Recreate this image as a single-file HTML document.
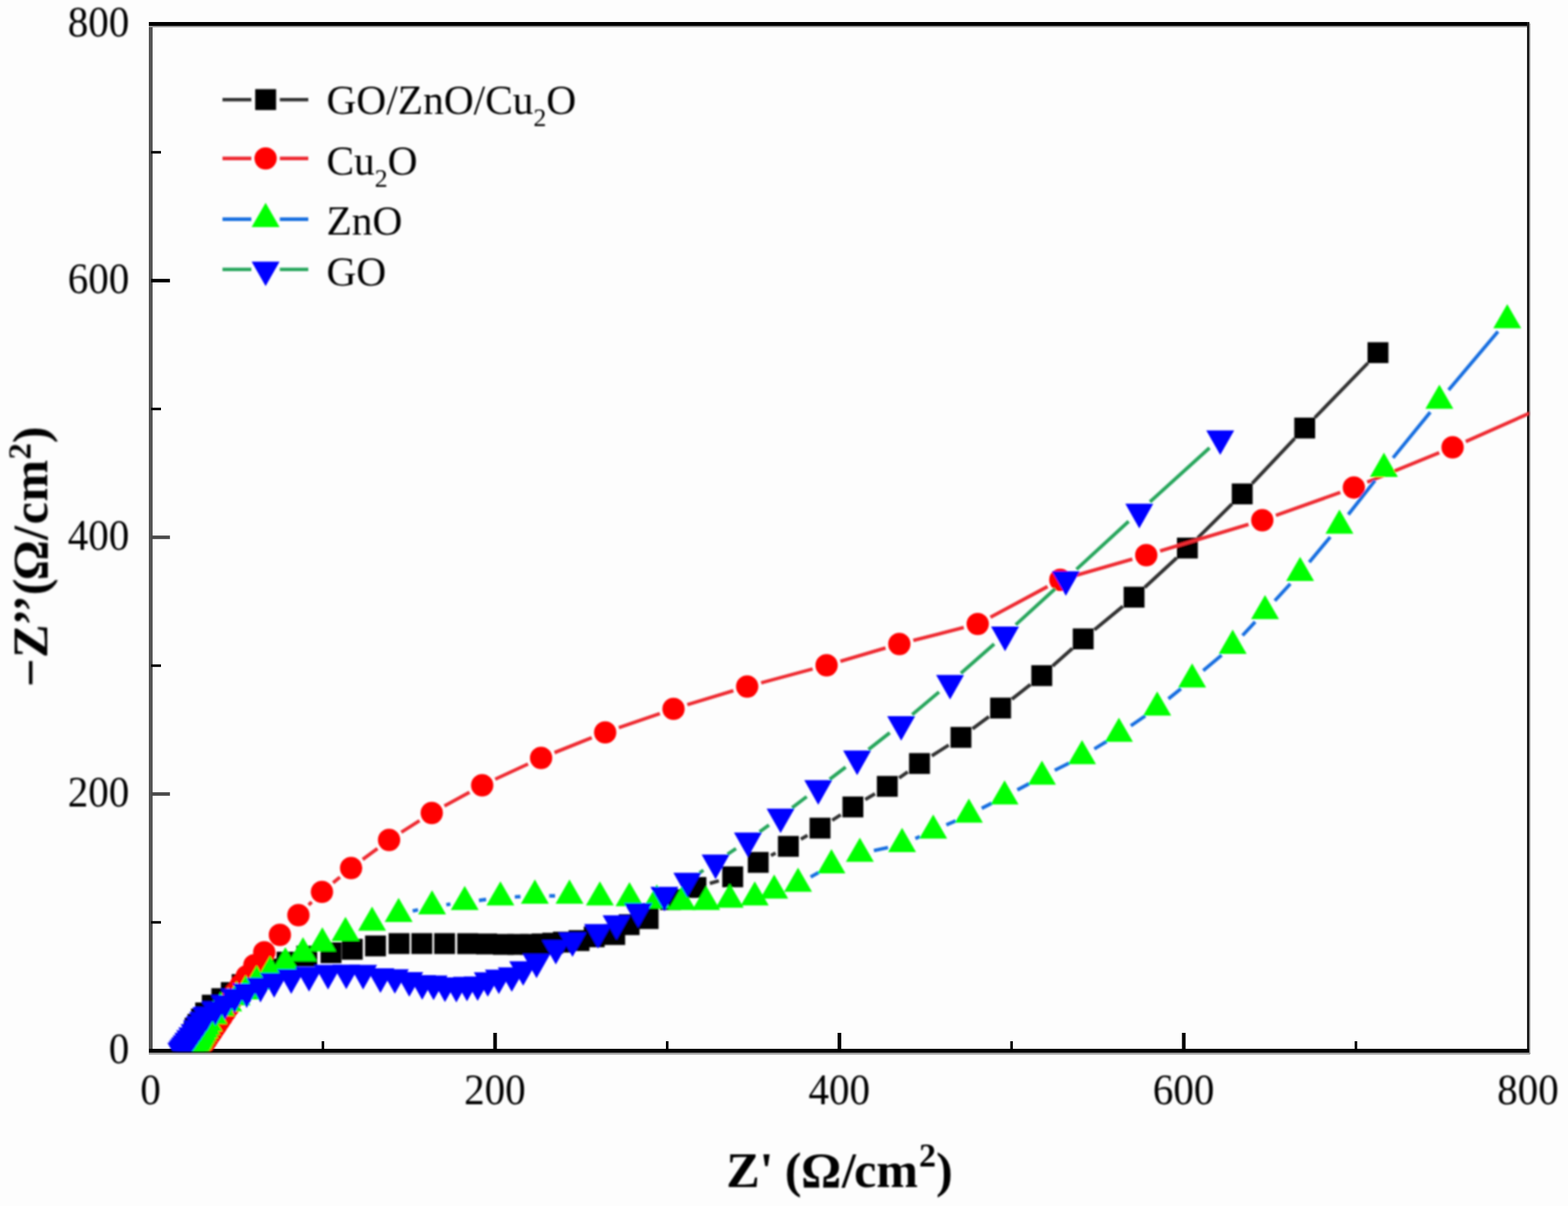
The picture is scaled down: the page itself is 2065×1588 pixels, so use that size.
<!DOCTYPE html>
<html lang="en"><head><meta charset="utf-8"><title>Nyquist plot</title>
<style>
html,body{margin:0;padding:0;background:#fdfdfd;}
body{width:2065px;height:1588px;overflow:hidden;}
svg{display:block;}
text{font-family:"Liberation Serif","DejaVu Serif",serif;fill:#000;}
.tk{font-size:56px;}
.lg{font-size:54.5px;}
.ax{font-size:66px;font-weight:bold;font-kerning:none;}
</style></head><body>
<svg width="2065" height="1588" viewBox="0 0 2065 1588">
<defs><clipPath id="plot"><rect x="196" y="29" width="1818" height="1355.5"/></clipPath><filter id="soft" x="-2%" y="-2%" width="104%" height="104%"><feGaussianBlur stdDeviation="1.0"/></filter><filter id="soft0" x="-2%" y="-2%" width="104%" height="104%"><feGaussianBlur stdDeviation="0.5"/></filter></defs>
<rect width="2065" height="1588" fill="#fdfdfd"/>
<g id="frame" filter="url(#soft0)">
<rect x="196" y="29" width="5" height="1359" fill="#555555"/>
<rect x="196" y="29" width="1818" height="5" fill="#000000"/>
<rect x="196" y="34" width="1818" height="2" fill="#9a9a9a"/>
<rect x="2011" y="29" width="3.2" height="1359" fill="#1e1e1e"/>
<rect x="2014" y="31" width="1.6" height="1357" fill="#a8a8a8"/>
<rect x="196" y="1381" width="1818" height="5.2" fill="#000000"/>
<rect x="196" y="1386" width="1819" height="2.6" fill="#9a9a9a"/>
<rect x="199" y="1212.8" width="13" height="3.4" fill="#000"/>
<rect x="423.6" y="1371" width="3.4" height="12" fill="#000"/>
<rect x="199" y="1043.2" width="24.8" height="4.6" fill="#4a4a4a"/>
<rect x="649.6" y="1360" width="4.8" height="23" fill="#000"/>
<rect x="199" y="874.8" width="13" height="3.4" fill="#000"/>
<rect x="877" y="1371" width="3.4" height="12" fill="#000"/>
<rect x="199" y="705.2" width="24.8" height="4.6" fill="#4a4a4a"/>
<rect x="1103.1" y="1360" width="4.8" height="23" fill="#000"/>
<rect x="199" y="536.8" width="13" height="3.4" fill="#000"/>
<rect x="1330.5" y="1371" width="3.4" height="12" fill="#000"/>
<rect x="199" y="367.2" width="24.8" height="4.6" fill="#000"/>
<rect x="1556.6" y="1360" width="4.8" height="23" fill="#000"/>
<rect x="199" y="198.8" width="13" height="3.4" fill="#000"/>
<rect x="1784" y="1371" width="3.4" height="12" fill="#000"/>
</g>
<g filter="url(#soft)">
<g id="data" clip-path="url(#plot)">
<path d="M934.8 1163.2L946.7 1159.8M1015.3 1126.6L1021.4 1123.3M1054.7 1104.9L1063.5 1099.9M1096 1080.1L1107.2 1072.9M1139.5 1052.8L1152.3 1045.2M1184.1 1024.4L1195.5 1016.4M1227.1 995.3L1249.4 981.1M1280.8 959.7L1302.4 943.7M1332.6 920.6L1357.1 901.4M1386.2 877L1412.4 853.8M1441.3 829.2L1478.8 798.4M1507.5 773.5L1549.8 734.5M1577.3 708.3L1622.5 663.7M1649.1 636.6L1705.1 577.4M1731.5 550L1801.5 478" stroke="#333333" stroke-width="4.6" fill="none"/>
<rect x="235.1" y="1371" width="27.5" height="27.5" fill="#000000"/>
<rect x="235.8" y="1368.2" width="27.5" height="27.5" fill="#000000"/>
<rect x="236.6" y="1365.3" width="27.5" height="27.5" fill="#000000"/>
<rect x="237.3" y="1362.2" width="27.5" height="27.5" fill="#000000"/>
<rect x="238.3" y="1358.7" width="27.5" height="27.5" fill="#000000"/>
<rect x="239.3" y="1354.7" width="27.5" height="27.5" fill="#000000"/>
<rect x="240.6" y="1350.2" width="27.5" height="27.5" fill="#000000"/>
<rect x="241.8" y="1345.5" width="27.5" height="27.5" fill="#000000"/>
<rect x="243.2" y="1340" width="27.5" height="27.5" fill="#000000"/>
<rect x="246.9" y="1335" width="27.5" height="27.5" fill="#000000"/>
<rect x="251.6" y="1328" width="27.5" height="27.5" fill="#000000"/>
<rect x="257.1" y="1320" width="27.5" height="27.5" fill="#000000"/>
<rect x="265.8" y="1309.8" width="27.5" height="27.5" fill="#000000"/>
<rect x="278.4" y="1301.2" width="27.5" height="27.5" fill="#000000"/>
<rect x="290.9" y="1293.2" width="27.5" height="27.5" fill="#000000"/>
<rect x="305.1" y="1282.7" width="27.5" height="27.5" fill="#000000"/>
<rect x="322.2" y="1272.2" width="27.5" height="27.5" fill="#000000"/>
<rect x="341.8" y="1262.2" width="27.5" height="27.5" fill="#000000"/>
<rect x="364.2" y="1253.2" width="27.5" height="27.5" fill="#000000"/>
<rect x="390.2" y="1245.2" width="27.5" height="27.5" fill="#000000"/>
<rect x="422.2" y="1240.8" width="27.5" height="27.5" fill="#000000"/>
<rect x="450.2" y="1236.2" width="27.5" height="27.5" fill="#000000"/>
<rect x="480.8" y="1231.8" width="27.5" height="27.5" fill="#000000"/>
<rect x="511.8" y="1228.7" width="27.5" height="27.5" fill="#000000"/>
<rect x="541.8" y="1228.7" width="27.5" height="27.5" fill="#000000"/>
<rect x="571.8" y="1228.7" width="27.5" height="27.5" fill="#000000"/>
<rect x="602.2" y="1228.8" width="27.5" height="27.5" fill="#000000"/>
<rect x="627.2" y="1229.2" width="27.5" height="27.5" fill="#000000"/>
<rect x="649.2" y="1229.8" width="27.5" height="27.5" fill="#000000"/>
<rect x="668.2" y="1229.8" width="27.5" height="27.5" fill="#000000"/>
<rect x="685.2" y="1229.8" width="27.5" height="27.5" fill="#000000"/>
<rect x="700.2" y="1229.2" width="27.5" height="27.5" fill="#000000"/>
<rect x="714.2" y="1228.2" width="27.5" height="27.5" fill="#000000"/>
<rect x="728.2" y="1226.8" width="27.5" height="27.5" fill="#000000"/>
<rect x="748.8" y="1224.8" width="27.5" height="27.5" fill="#000000"/>
<rect x="768.8" y="1219.8" width="27.5" height="27.5" fill="#000000"/>
<rect x="795.8" y="1216.8" width="27.5" height="27.5" fill="#000000"/>
<rect x="814.8" y="1203.8" width="27.5" height="27.5" fill="#000000"/>
<rect x="839.8" y="1195.8" width="27.5" height="27.5" fill="#000000"/>
<rect x="869.2" y="1170.8" width="27.5" height="27.5" fill="#000000"/>
<rect x="902.8" y="1154.8" width="27.5" height="27.5" fill="#000000"/>
<rect x="951.2" y="1140.8" width="27.5" height="27.5" fill="#000000"/>
<rect x="984.8" y="1121.8" width="27.5" height="27.5" fill="#000000"/>
<rect x="1024.5" y="1100.7" width="27.5" height="27.5" fill="#000000"/>
<rect x="1066.2" y="1076.7" width="27.5" height="27.5" fill="#000000"/>
<rect x="1109.5" y="1048.8" width="27.5" height="27.5" fill="#000000"/>
<rect x="1154.8" y="1021.7" width="27.5" height="27.5" fill="#000000"/>
<rect x="1197.2" y="991.6" width="27.5" height="27.5" fill="#000000"/>
<rect x="1251.8" y="957.2" width="27.5" height="27.5" fill="#000000"/>
<rect x="1304" y="918.6" width="27.5" height="27.5" fill="#000000"/>
<rect x="1358.2" y="875.9" width="27.5" height="27.5" fill="#000000"/>
<rect x="1412.8" y="827.5" width="27.5" height="27.5" fill="#000000"/>
<rect x="1479.8" y="772.6" width="27.5" height="27.5" fill="#000000"/>
<rect x="1550" y="707.9" width="27.5" height="27.5" fill="#000000"/>
<rect x="1622.2" y="636.6" width="27.5" height="27.5" fill="#000000"/>
<rect x="1704.5" y="549.9" width="27.5" height="27.5" fill="#000000"/>
<rect x="1801" y="450.6" width="27.5" height="27.5" fill="#000000"/>
<path d="M406.5 1191.7L410.5 1187.7M438.7 1162.4L447.7 1155M477.7 1131.7L497.1 1117.3M528.5 1095.9L552.5 1080.6M585.3 1061.3L618.3 1043.2M652.2 1026L695.4 1006M730.3 991L779.3 971.4M815 958.2L869 939.6M905.2 927.9L965.8 909.5M1002.4 899.1L1070.2 880.9M1106.8 870.7L1166.2 853.3M1202.8 843.3L1269.2 826.3M1304.4 812.7L1379.6 772.4M1414.7 758.3L1491.3 736.2M1527.8 725.5L1644.2 690.5M1680.3 678.6L1765.1 648.4M1800.6 634.8L1895.4 596.2M1930.4 581.3L2044.6 530.7" stroke="#ee2a30" stroke-width="4.6" fill="none"/>
<circle cx="259.2" cy="1387.9" r="14.7" fill="#ff0000"/>
<circle cx="260.7" cy="1385.6" r="14.7" fill="#ff0000"/>
<circle cx="262.3" cy="1383.2" r="14.7" fill="#ff0000"/>
<circle cx="263.9" cy="1380.9" r="14.7" fill="#ff0000"/>
<circle cx="265.4" cy="1378.6" r="14.7" fill="#ff0000"/>
<circle cx="267" cy="1376.3" r="14.7" fill="#ff0000"/>
<circle cx="268.5" cy="1374" r="14.7" fill="#ff0000"/>
<circle cx="270.2" cy="1371.5" r="14.7" fill="#ff0000"/>
<circle cx="272.1" cy="1368.7" r="14.7" fill="#ff0000"/>
<circle cx="274.1" cy="1365.6" r="14.7" fill="#ff0000"/>
<circle cx="276.4" cy="1362.2" r="14.7" fill="#ff0000"/>
<circle cx="279" cy="1358.4" r="14.7" fill="#ff0000"/>
<circle cx="281.8" cy="1354.2" r="14.7" fill="#ff0000"/>
<circle cx="285" cy="1349.5" r="14.7" fill="#ff0000"/>
<circle cx="288.5" cy="1344.3" r="14.7" fill="#ff0000"/>
<circle cx="292.4" cy="1338.6" r="14.7" fill="#ff0000"/>
<circle cx="296.7" cy="1332.1" r="14.7" fill="#ff0000"/>
<circle cx="301.5" cy="1325" r="14.7" fill="#ff0000"/>
<circle cx="305.2" cy="1316" r="14.7" fill="#ff0000"/>
<circle cx="310.6" cy="1307" r="14.7" fill="#ff0000"/>
<circle cx="317" cy="1297.5" r="14.7" fill="#ff0000"/>
<circle cx="325" cy="1285.5" r="14.7" fill="#ff0000"/>
<circle cx="335" cy="1271" r="14.7" fill="#ff0000"/>
<circle cx="348" cy="1254" r="14.7" fill="#ff0000"/>
<circle cx="368.6" cy="1231" r="14.7" fill="#ff0000"/>
<circle cx="393" cy="1205" r="14.7" fill="#ff0000"/>
<circle cx="424" cy="1174.4" r="14.7" fill="#ff0000"/>
<circle cx="462.4" cy="1143" r="14.7" fill="#ff0000"/>
<circle cx="512.4" cy="1106" r="14.7" fill="#ff0000"/>
<circle cx="568.6" cy="1070.5" r="14.7" fill="#ff0000"/>
<circle cx="635" cy="1034" r="14.7" fill="#ff0000"/>
<circle cx="712.6" cy="998" r="14.7" fill="#ff0000"/>
<circle cx="797" cy="964.4" r="14.7" fill="#ff0000"/>
<circle cx="887" cy="933.4" r="14.7" fill="#ff0000"/>
<circle cx="984" cy="904" r="14.7" fill="#ff0000"/>
<circle cx="1088.6" cy="876" r="14.7" fill="#ff0000"/>
<circle cx="1184.4" cy="848" r="14.7" fill="#ff0000"/>
<circle cx="1287.6" cy="821.6" r="14.7" fill="#ff0000"/>
<circle cx="1396.4" cy="763.5" r="14.7" fill="#ff0000"/>
<circle cx="1509.6" cy="731" r="14.7" fill="#ff0000"/>
<circle cx="1662.4" cy="685" r="14.7" fill="#ff0000"/>
<circle cx="1783" cy="642" r="14.7" fill="#ff0000"/>
<circle cx="1913" cy="589" r="14.7" fill="#ff0000"/>
<circle cx="2062" cy="523" r="14.7" fill="#ff0000"/>
<path d="M543.5 1199.6L550.5 1198M587.8 1191.3L593.2 1190.5M630.8 1185.6L640.2 1184.4M678 1181L685.4 1180.6M723.4 1179.6L731 1179.6M1067.6 1154.8L1078.4 1148.8M1150.9 1120.1L1169.5 1115.9M1205.5 1104.1L1211.5 1101.5M1246.3 1086.2L1258.7 1080.8M1292.9 1064.4L1306.1 1057.6M1339.8 1040.1L1355.4 1031.9M1389.1 1014.3L1408.1 1004.7M1441.2 986.1L1457.4 976.3M1489.3 955.7L1508.3 942.7M1538.8 920.1L1555.2 906.9M1584.6 882.9L1608.8 862.7M1636.4 836.7L1653 818.9M1678.9 791L1699.3 768.8M1724.3 740.2L1751.9 707.1M1775.7 677.5L1810.9 632.6M1834.6 602.9L1883.6 542.7M1907.8 513.5L1972.8 436.5" stroke="#186ee0" stroke-width="4.6" fill="none"/>
<polygon points="251,1365.1 269.4,1396.9 232.6,1396.9" fill="#00ff00"/>
<polygon points="252.4,1362.7 270.8,1394.5 234,1394.5" fill="#00ff00"/>
<polygon points="253.9,1360.3 272.3,1392.1 235.5,1392.1" fill="#00ff00"/>
<polygon points="255.3,1357.9 273.7,1389.7 236.9,1389.7" fill="#00ff00"/>
<polygon points="256.8,1355.5 275.2,1387.3 238.4,1387.3" fill="#00ff00"/>
<polygon points="258.2,1353.1 276.6,1384.9 239.8,1384.9" fill="#00ff00"/>
<polygon points="259.7,1350.8 278.1,1382.6 241.3,1382.6" fill="#00ff00"/>
<polygon points="261.2,1348.3 279.6,1380.1 242.8,1380.1" fill="#00ff00"/>
<polygon points="262.8,1345.5 281.2,1377.3 244.4,1377.3" fill="#00ff00"/>
<polygon points="264.7,1342.4 283.1,1374.2 246.3,1374.2" fill="#00ff00"/>
<polygon points="266.8,1339 285.2,1370.8 248.4,1370.8" fill="#00ff00"/>
<polygon points="269.1,1335.1 287.5,1366.9 250.7,1366.9" fill="#00ff00"/>
<polygon points="271.7,1330.9 290.1,1362.7 253.3,1362.7" fill="#00ff00"/>
<polygon points="274.5,1326.2 292.9,1358 256.1,1358" fill="#00ff00"/>
<polygon points="281,1316.8 299.4,1348.6 262.6,1348.6" fill="#00ff00"/>
<polygon points="290.6,1306 309,1337.8 272.2,1337.8" fill="#00ff00"/>
<polygon points="300.5,1300 318.9,1331.8 282.1,1331.8" fill="#00ff00"/>
<polygon points="311.5,1292 329.9,1323.8 293.1,1323.8" fill="#00ff00"/>
<polygon points="323.5,1284.1 341.9,1315.9 305.1,1315.9" fill="#00ff00"/>
<polygon points="338,1271.1 356.4,1302.9 319.6,1302.9" fill="#00ff00"/>
<polygon points="355.7,1258.5 374.1,1290.3 337.3,1290.3" fill="#00ff00"/>
<polygon points="375.8,1247.3 394.2,1279.1 357.4,1279.1" fill="#00ff00"/>
<polygon points="399,1234 417.4,1265.8 380.6,1265.8" fill="#00ff00"/>
<polygon points="424.5,1220.9 442.9,1252.7 406.1,1252.7" fill="#00ff00"/>
<polygon points="455,1207.3 473.4,1239.1 436.6,1239.1" fill="#00ff00"/>
<polygon points="490,1193.7 508.4,1225.5 471.6,1225.5" fill="#00ff00"/>
<polygon points="525,1182.3 543.4,1214.1 506.6,1214.1" fill="#00ff00"/>
<polygon points="569,1172.3 587.4,1204.1 550.6,1204.1" fill="#00ff00"/>
<polygon points="612,1166.5 630.4,1198.3 593.6,1198.3" fill="#00ff00"/>
<polygon points="659,1160.5 677.4,1192.3 640.6,1192.3" fill="#00ff00"/>
<polygon points="704.4,1158.1 722.8,1189.9 686,1189.9" fill="#00ff00"/>
<polygon points="750,1158.1 768.4,1189.9 731.6,1189.9" fill="#00ff00"/>
<polygon points="790,1160.5 808.4,1192.3 771.6,1192.3" fill="#00ff00"/>
<polygon points="829,1161.5 847.4,1193.3 810.6,1193.3" fill="#00ff00"/>
<polygon points="865,1164.5 883.4,1196.3 846.6,1196.3" fill="#00ff00"/>
<polygon points="898,1166.5 916.4,1198.3 879.6,1198.3" fill="#00ff00"/>
<polygon points="930,1166.5 948.4,1198.3 911.6,1198.3" fill="#00ff00"/>
<polygon points="961,1163.5 979.4,1195.3 942.6,1195.3" fill="#00ff00"/>
<polygon points="994,1160.5 1012.4,1192.3 975.6,1192.3" fill="#00ff00"/>
<polygon points="1019.6,1151.5 1038,1183.3 1001.2,1183.3" fill="#00ff00"/>
<polygon points="1051,1142.5 1069.4,1174.3 1032.6,1174.3" fill="#00ff00"/>
<polygon points="1095,1118.1 1113.4,1149.9 1076.6,1149.9" fill="#00ff00"/>
<polygon points="1132.4,1102.9 1150.8,1134.7 1114,1134.7" fill="#00ff00"/>
<polygon points="1188,1090.1 1206.4,1121.9 1169.6,1121.9" fill="#00ff00"/>
<polygon points="1229,1072.5 1247.4,1104.3 1210.6,1104.3" fill="#00ff00"/>
<polygon points="1276,1051.5 1294.4,1083.3 1257.6,1083.3" fill="#00ff00"/>
<polygon points="1323,1027.5 1341.4,1059.3 1304.6,1059.3" fill="#00ff00"/>
<polygon points="1372.2,1001.5 1390.6,1033.3 1353.8,1033.3" fill="#00ff00"/>
<polygon points="1425,974.5 1443.4,1006.3 1406.6,1006.3" fill="#00ff00"/>
<polygon points="1473.6,944.9 1492,976.7 1455.2,976.7" fill="#00ff00"/>
<polygon points="1524,910.5 1542.4,942.3 1505.6,942.3" fill="#00ff00"/>
<polygon points="1570,873.5 1588.4,905.3 1551.6,905.3" fill="#00ff00"/>
<polygon points="1623.4,829.1 1641.8,860.9 1605,860.9" fill="#00ff00"/>
<polygon points="1666,783.5 1684.4,815.3 1647.6,815.3" fill="#00ff00"/>
<polygon points="1712.2,733.3 1730.6,765.1 1693.8,765.1" fill="#00ff00"/>
<polygon points="1764,671 1782.4,702.8 1745.6,702.8" fill="#00ff00"/>
<polygon points="1822.6,596.1 1841,627.9 1804.2,627.9" fill="#00ff00"/>
<polygon points="1895.6,506.5 1914,538.3 1877.2,538.3" fill="#00ff00"/>
<polygon points="1985,400.5 2003.4,432.3 1966.6,432.3" fill="#00ff00"/>
<path d="M921.2 1149.3L926.4 1145.9M958.1 1124.9L969.3 1117.3M1000.3 1095.3L1012.7 1086.3M1043.2 1063.6L1062.4 1049M1092.7 1026.1L1113.7 1010.1M1143.8 986.9L1171.8 964.9M1201.3 941L1236.7 911.2M1265.5 886.5L1309.3 847.9M1337.7 822.6L1389.6 775.3M1417.7 749.6L1486.4 686.5M1514.5 660.8L1592.9 589.8" stroke="#26a65c" stroke-width="4.6" fill="none"/>
<polygon points="220.4,1373.1 257.2,1373.1 238.8,1405.5" fill="#0000ff"/>
<polygon points="222,1370.8 258.8,1370.8 240.4,1403.2" fill="#0000ff"/>
<polygon points="223.6,1368.5 260.4,1368.5 242,1400.9" fill="#0000ff"/>
<polygon points="225.4,1366 262.2,1366 243.8,1398.4" fill="#0000ff"/>
<polygon points="227.4,1363.2 264.2,1363.2 245.8,1395.6" fill="#0000ff"/>
<polygon points="229.6,1360 266.4,1360 248,1392.4" fill="#0000ff"/>
<polygon points="232,1356.6 268.8,1356.6 250.4,1389" fill="#0000ff"/>
<polygon points="234.8,1352.7 271.6,1352.7 253.2,1385.1" fill="#0000ff"/>
<polygon points="237.8,1348.4 274.6,1348.4 256.2,1380.8" fill="#0000ff"/>
<polygon points="241.1,1343.6 277.9,1343.6 259.5,1376" fill="#0000ff"/>
<polygon points="244.9,1338.3 281.7,1338.3 263.3,1370.7" fill="#0000ff"/>
<polygon points="249,1332.4 285.8,1332.4 267.4,1364.8" fill="#0000ff"/>
<polygon points="253.6,1325.9 290.4,1325.9 272,1358.3" fill="#0000ff"/>
<polygon points="265.2,1318.4 302,1318.4 283.6,1350.8" fill="#0000ff"/>
<polygon points="277.8,1310.3 314.6,1310.3 296.2,1342.7" fill="#0000ff"/>
<polygon points="290.5,1301.7 327.3,1301.7 308.9,1334.1" fill="#0000ff"/>
<polygon points="306.5,1294.9 343.3,1294.9 324.9,1327.3" fill="#0000ff"/>
<polygon points="324.6,1287.5 361.4,1287.5 343,1319.9" fill="#0000ff"/>
<polygon points="342.6,1281.3 379.4,1281.3 361,1313.7" fill="#0000ff"/>
<polygon points="365.1,1276.3 401.9,1276.3 383.5,1308.7" fill="#0000ff"/>
<polygon points="388.6,1273.3 425.4,1273.3 407,1305.7" fill="#0000ff"/>
<polygon points="413.6,1270.5 450.4,1270.5 432,1302.9" fill="#0000ff"/>
<polygon points="437.6,1270.2 474.4,1270.2 456,1302.6" fill="#0000ff"/>
<polygon points="459.8,1270.5 496.6,1270.5 478.2,1302.9" fill="#0000ff"/>
<polygon points="482.6,1275 519.4,1275 501,1307.4" fill="#0000ff"/>
<polygon points="501.6,1276.2 538.4,1276.2 520,1308.6" fill="#0000ff"/>
<polygon points="520.6,1280 557.4,1280 539,1312.4" fill="#0000ff"/>
<polygon points="537.6,1284 574.4,1284 556,1316.4" fill="#0000ff"/>
<polygon points="552.6,1284.5 589.4,1284.5 571,1316.9" fill="#0000ff"/>
<polygon points="567.6,1287 604.4,1287 586,1319.4" fill="#0000ff"/>
<polygon points="582.6,1287.7 619.4,1287.7 601,1320.1" fill="#0000ff"/>
<polygon points="596.6,1286.2 633.4,1286.2 615,1318.6" fill="#0000ff"/>
<polygon points="610.6,1285.7 647.4,1285.7 629,1318.1" fill="#0000ff"/>
<polygon points="624,1280.2 660.8,1280.2 642.4,1312.6" fill="#0000ff"/>
<polygon points="638.6,1276.7 675.4,1276.7 657,1309.1" fill="#0000ff"/>
<polygon points="655.6,1273.7 692.4,1273.7 674,1306.1" fill="#0000ff"/>
<polygon points="670.6,1265.7 707.4,1265.7 689,1298.1" fill="#0000ff"/>
<polygon points="688.2,1255.7 725,1255.7 706.6,1288.1" fill="#0000ff"/>
<polygon points="713.6,1237.7 750.4,1237.7 732,1270.1" fill="#0000ff"/>
<polygon points="735.6,1227.7 772.4,1227.7 754,1260.1" fill="#0000ff"/>
<polygon points="769.2,1216.7 806,1216.7 787.6,1249.1" fill="#0000ff"/>
<polygon points="793.6,1205.3 830.4,1205.3 812,1237.7" fill="#0000ff"/>
<polygon points="822.2,1189.3 859,1189.3 840.6,1221.7" fill="#0000ff"/>
<polygon points="856.6,1167.7 893.4,1167.7 875,1200.1" fill="#0000ff"/>
<polygon points="886.8,1149.3 923.6,1149.3 905.2,1181.7" fill="#0000ff"/>
<polygon points="924,1125.3 960.8,1125.3 942.4,1157.7" fill="#0000ff"/>
<polygon points="966.6,1096.3 1003.4,1096.3 985,1128.7" fill="#0000ff"/>
<polygon points="1009.6,1064.7 1046.4,1064.7 1028,1097.1" fill="#0000ff"/>
<polygon points="1059.2,1027.3 1096,1027.3 1077.6,1059.7" fill="#0000ff"/>
<polygon points="1110.4,988.3 1147.2,988.3 1128.8,1020.7" fill="#0000ff"/>
<polygon points="1168.4,942.9 1205.2,942.9 1186.8,975.3" fill="#0000ff"/>
<polygon points="1232.8,888.7 1269.6,888.7 1251.2,921.1" fill="#0000ff"/>
<polygon points="1305.2,825.1 1342,825.1 1323.6,857.5" fill="#0000ff"/>
<polygon points="1385.3,752.2 1422.1,752.2 1403.7,784.6" fill="#0000ff"/>
<polygon points="1482,663.3 1518.8,663.3 1500.4,695.7" fill="#0000ff"/>
<polygon points="1588.6,566.7 1625.4,566.7 1607,599.1" fill="#0000ff"/>
</g>
<g id="legend">
<path d="M293 131.2H331M368.5 131.2H406" stroke="#333333" stroke-width="4.6" fill="none"/>
<rect x="336.1" y="117.4" width="27.5" height="27.5" fill="#000000"/>
<text class="lg" x="430" y="150">GO/ZnO/Cu<tspan class="sub" dy="16" font-size="34">2</tspan><tspan dy="-16">O</tspan></text>
<path d="M293 208.6H331M368.5 208.6H406" stroke="#ee2a30" stroke-width="4.6" fill="none"/>
<circle cx="349.8" cy="208.6" r="14.7" fill="#ff0000"/>
<text class="lg" x="430" y="230">Cu<tspan class="sub" dy="16" font-size="34">2</tspan><tspan dy="-16">O</tspan></text>
<path d="M293 288.6H331M368.5 288.6H406" stroke="#186ee0" stroke-width="4.6" fill="none"/>
<polygon points="349.8,267.1 368.2,298.9 331.4,298.9" fill="#00ff00"/>
<text class="lg" x="430" y="308.8">ZnO</text>
<path d="M293 354.7H331M368.5 354.7H406" stroke="#26a65c" stroke-width="4.6" fill="none"/>
<polygon points="331.4,344.4 368.2,344.4 349.8,376.8" fill="#0000ff"/>
<text class="lg" x="430" y="376">GO</text>
</g>
<g id="ticklabels">
<text class="tk" text-anchor="end" transform="translate(170.2 1399.5) scale(0.965 1)">0</text>
<text class="tk" text-anchor="middle" transform="translate(198.2 1454) scale(0.965 1)">0</text>
<text class="tk" text-anchor="end" transform="translate(170.2 1061.5) scale(0.965 1)">200</text>
<text class="tk" text-anchor="middle" transform="translate(651.7 1454) scale(0.965 1)">200</text>
<text class="tk" text-anchor="end" transform="translate(170.2 723.5) scale(0.965 1)">400</text>
<text class="tk" text-anchor="middle" transform="translate(1105.2 1454) scale(0.965 1)">400</text>
<text class="tk" text-anchor="end" transform="translate(170.2 385.5) scale(0.965 1)">600</text>
<text class="tk" text-anchor="middle" transform="translate(1558.7 1454) scale(0.965 1)">600</text>
<text class="tk" text-anchor="end" transform="translate(170.2 47.5) scale(0.965 1)">800</text>
<text class="tk" text-anchor="middle" transform="translate(2012.2 1454) scale(0.965 1)">800</text>
</g>
<text class="ax" y="1563.3" x="956.5 1000.3 1018 1033.4 1055.1 1108.7 1124.7 1154">Z' (Ω/cm<tspan x="1210.3" dy="-27" font-size="45">2</tspan><tspan x="1232.7" dy="27">)</tspan></text>
<text class="ax" transform="translate(62.2 901.5) rotate(-90)" y="0" x="-3 35.3 77.7 95.8 117.7 137.3 190.5 211.1 241.1">−Z’’(Ω/cm<tspan x="296.6" dy="-22.5" font-size="43">2</tspan><tspan x="318.1" dy="22.5">)</tspan></text>
</g>
</svg>
</body></html>
